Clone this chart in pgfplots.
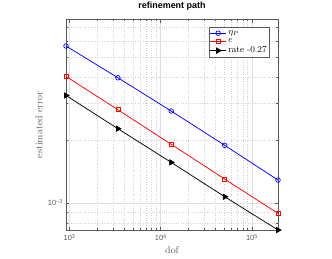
\documentclass[border=0pt]{standalone}
\usepackage{fontspec}
\usepackage{pgfplots}
\pgfplotsset{compat=1.18}
\newfontfamily\hv{Liberation Sans}
\newcommand{\tl}[1]{{\hv 10\raisebox{0.55ex}{\fontsize{5.5}{6}\selectfont #1}}}
\definecolor{axgray}{gray}{0.35}
\begin{document}
\begin{tikzpicture}
\path[use as bounding box] (0,0) rectangle (332bp,259bp);
\begin{axis}[
  at={(66bp,29bp)}, anchor=south west,
  scale only axis, width=212bp, height=210.5bp,
  xmode=log, ymode=log,
  xmin=920, xmax=194000, ymin=0.74e-3, ymax=7.6e-3,
  xtick={1000,10000,100000},
  xticklabels={\tl{3},\tl{4},\tl{5}},
  ytick={1e-3}, yticklabels={\tl{−3}},
  minor xtick={2000,3000,4000,5000,6000,7000,8000,9000,20000,30000,40000,50000,60000,70000,80000,90000,200000},
  minor ytick={8e-4,9e-4,2e-3,3e-3,4e-3,5e-3,6e-3,7e-3},
  grid=both,
  major grid style={solid, gray!25, line width=0.4pt},
  minor grid style={dotted, gray!35, line width=0.4pt},
  axis line style={axgray, line width=0.5pt},
  tick style={axgray, line width=0.4pt},
  major tick length=3bp, minor tick length=1.8bp,
  tick align=inside,
  ticklabel style={font=\fontsize{7.5}{9}\selectfont, text=axgray},
  xticklabel style={yshift=-1bp},
  title={\hv\bfseries refinement path},
  title style={at={(axis description cs:0.5,1)}, anchor=center, yshift=7.5bp, font=\fontsize{9}{10}\selectfont},
  xlabel={dof},
  xlabel style={at={(axis description cs:0.5,-0.095)}, anchor=center, font=\fontsize{10}{12}\selectfont, text=axgray},
  ylabel={estimated error},
  ylabel style={at={(axis description cs:-0.127,0.5)}, anchor=center, font=\fontsize{10}{12}\selectfont, text=axgray},
  legend style={at={(axis description cs:0.962,0.963)}, anchor=north east,
    draw=axgray, line width=0.5pt, fill=white, font=\fontsize{9}{10}\selectfont,
    inner sep=1pt, row sep=-1.2pt, cells={anchor=west}},
  legend image code/.code={\draw[#1] (0cm,0cm) -- (0.55cm,0cm); \draw[#1, mark repeat=2, mark phase=2] plot coordinates {(0cm,0cm) (0.275cm,0cm) (0.55cm,0cm)};},
]
\addplot[blue, line width=0.75pt, mark=o, mark size=2.3bp, mark options={solid, line width=0.7pt}] coordinates {
(920,5.67e-3) (3410,3.99e-3) (13090,2.76e-3) (50600,1.888e-3) (194000,1.286e-3)};
\addlegendentry{$\eta_P$}
\addplot[red, line width=0.75pt, mark=square, mark size=2.0bp, mark options={solid, line width=0.7pt}] coordinates {
(920,4.05e-3) (3410,2.80e-3) (13090,1.91e-3) (50600,1.30e-3) (194000,0.889e-3)};
\addlegendentry{$e$}
\addplot[black, line width=0.75pt, mark=triangle*, mark size=3bp, mark options={solid, rotate=-90}] coordinates {
(920,3.28e-3) (3410,2.27e-3) (13090,1.564e-3) (50600,1.069e-3) (194000,0.74e-3)};
\addlegendentry{rate -0.27}
\end{axis}
\end{tikzpicture}
\end{document}
